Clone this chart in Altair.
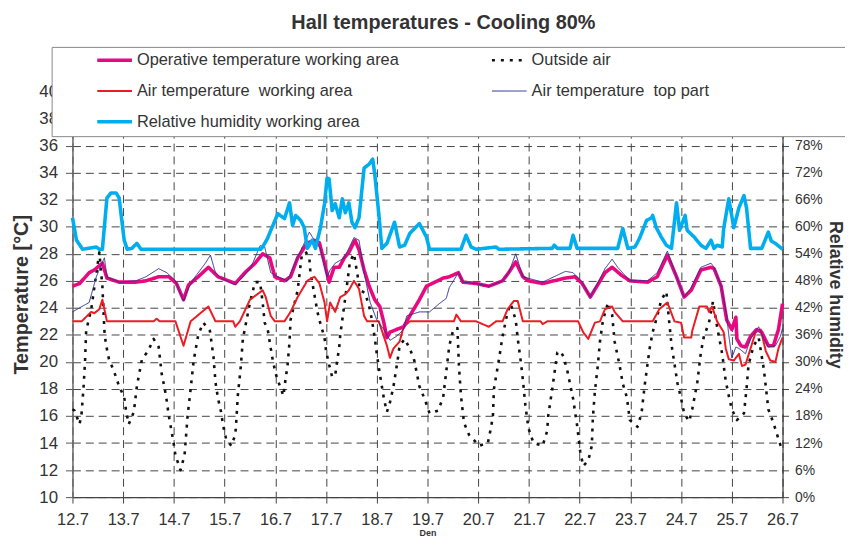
import altair as alt
import pandas as pd

FONT = "Liberation Sans, Arial, sans-serif"

SERIES = [
    "Operative temperature working area",
    "Outside air",
    "Air temperature\u00a0 working area",
    "Air temperature\u00a0 top part",
    "Relative humidity working area",
]
COLORS = ["#E8097F", "#111111", "#ED1C24", "#2E3192", "#00AEEF"]
DASHES = [[1, 0], [3, 6], [1, 0], [1, 0], [1, 0]]
WIDTHS = [3.6, 2.6, 2, 1, 3.6]

# day index: 0 = 12.7, 14 = 26.7
outside_day = [0.00, 0.04, 0.14, 0.18, 0.22, 0.25, 0.27, 0.37, 0.53, 0.59, 0.63, 0.66, 0.72, 0.82, 0.92,
               1.02, 1.06, 1.11, 1.21, 1.27, 1.37, 1.49, 1.60, 1.70, 1.76, 1.82, 1.86, 1.90, 1.99,
               2.03, 2.13, 2.21, 2.27, 2.33, 2.39, 2.48, 2.58, 2.71, 2.78, 2.82, 2.87, 2.93, 2.97,
               3.03, 3.13, 3.21, 3.23, 3.26, 3.32, 3.36, 3.50, 3.60, 3.70, 3.75, 3.79, 3.85, 3.91, 3.95,
               4.01, 4.09, 4.16, 4.20, 4.24, 4.28, 4.30, 4.44, 4.54, 4.67, 4.69, 4.83, 4.89, 4.97,
               5.00, 5.06, 5.12, 5.18, 5.22, 5.26, 5.28, 5.32, 5.42, 5.47, 5.55, 5.67, 5.77, 5.85, 5.90, 5.96,
               6.00, 6.04, 6.10, 6.14, 6.20, 6.26, 6.33, 6.41, 6.45, 6.55, 6.65, 6.74, 6.84, 6.94,
               7.04, 7.21, 7.31, 7.37, 7.43, 7.51, 7.59, 7.62, 7.66, 7.72, 7.82,
               8.02, 8.19, 8.25, 8.29, 8.31, 8.41, 8.48, 8.58, 8.64, 8.74, 8.78, 8.84, 8.88, 8.93, 8.99,
               9.09, 9.27, 9.36, 9.38, 9.46, 9.56, 9.62, 9.68, 9.76, 9.87, 9.95,
               10.01, 10.07, 10.17, 10.24, 10.26, 10.30, 10.36, 10.40, 10.46, 10.56, 10.64, 10.69, 10.79,
               10.85, 10.93, 10.99, 11.14, 11.22, 11.28, 11.38, 11.44, 11.53, 11.61, 11.71, 11.77, 11.81, 11.93,
               12.00, 12.06, 12.16, 12.22, 12.32, 12.39, 12.45, 12.55, 12.63, 12.71, 12.81, 12.88, 12.94,
               13.00, 13.10, 13.24, 13.29, 13.33, 13.43, 13.53, 13.63, 13.67, 13.72, 13.82, 13.92, 13.98]
outside_temp = [16.5, 16.4, 15.4, 16.2, 18.2, 20.2, 22.3, 23.9, 28.1, 25.6, 22.3, 21.3, 20.2, 19.3, 18.2,
                17.4, 16.3, 15.4, 16.3, 18.2, 20.2, 20.8, 21.7, 21.1, 19.1, 18.0, 17.1, 16.0, 14.1,
                13.1, 12.0, 13.1, 16.0, 18.0, 20.1, 22.0, 22.9, 22.3, 20.4, 18.5, 17.3, 16.3, 15.3,
                14.3, 13.8, 14.6, 15.6, 17.5, 19.7, 21.7, 24.4, 25.9, 25.9, 24.4, 22.9, 22.4, 21.0, 20.1,
                19.1, 18.2, 17.5, 18.7, 19.7, 21.5, 23.1, 25.3, 28.5, 27.7, 26.7, 23.7, 22.8, 21.8,
                20.8, 19.8, 18.9, 19.0, 20.1, 21.1, 22.0, 23.1, 25.9, 27.4, 28.0, 25.3, 25.1, 24.1, 23.2, 21.8,
                20.6, 19.6, 18.2, 17.3, 16.3, 17.0, 18.2, 20.1, 21.2, 21.7, 21.0, 20.1, 18.2, 17.3,
                16.2, 16.4, 17.4, 19.3, 21.2, 22.4, 22.5, 19.7, 17.5, 15.5, 14.6,
                13.8, 14.0, 15.1, 16.0, 18.0, 20.2, 21.9, 23.7, 24.3, 23.1, 21.7, 20.0, 18.7, 16.8, 15.1,
                14.0, 13.8, 14.9, 16.0, 18.0, 20.7, 20.8, 20.4, 19.3, 17.3, 15.3,
                13.4, 12.3, 12.7, 13.8, 15.8, 17.8, 19.8, 21.5, 23.1, 24.4, 23.5, 21.5, 19.7,
                18.4, 17.4, 15.7, 15.2, 16.2, 18.2, 21.0, 22.2, 23.4, 24.6, 25.2, 22.8, 21.3, 18.4,
                17.3, 16.2, 15.6, 16.5, 18.5, 20.7, 21.9, 22.9, 24.5, 22.6, 20.6, 18.6, 17.5,
                16.5, 15.7, 16.2, 18.0, 19.8, 21.2, 21.8, 19.5, 18.2, 16.5, 15.5, 14.3, 13.6]

operative_day = [0.00, 0.14, 0.33, 0.43, 0.59, 0.68, 0.92, 1.25, 1.45, 1.70, 1.90, 2.05, 2.19, 2.29, 2.48,
                 2.68, 2.87, 3.21, 3.40, 3.60, 3.75, 3.89, 3.99, 4.18, 4.30, 4.44, 4.63, 4.77, 4.87, 4.97,
                 5.06, 5.16, 5.26, 5.36, 5.45, 5.57, 5.65, 5.75, 5.85, 5.96, 6.06, 6.14, 6.20, 6.26, 6.39,
                 6.53, 6.65, 6.84, 6.98, 7.31, 7.43, 7.61, 7.70, 7.96, 8.21, 8.48, 8.60, 8.74, 8.88, 8.99,
                 9.27, 9.38, 9.72, 9.91, 10.05, 10.21, 10.34, 10.50, 10.64, 10.83, 10.99, 11.34, 11.53,
                 11.73, 11.91, 12.06, 12.20, 12.39, 12.59, 12.65, 12.79, 12.90, 13.00, 13.08, 13.10, 13.18,
                 13.27, 13.37, 13.49, 13.59, 13.72, 13.82, 13.92, 14.00]
operative_temp = [25.6, 25.8, 26.6, 26.8, 27.3, 26.2, 25.9, 25.9, 26.0, 26.3, 26.3, 25.8, 24.6, 25.7, 26.3,
                  27.0, 26.3, 25.8, 26.6, 27.3, 28.0, 27.7, 26.3, 26.0, 26.3, 27.7, 28.8, 29.0, 28.8, 27.3,
                  25.9, 27.0, 27.0, 27.7, 28.1, 29.0, 28.3, 26.8, 25.6, 24.6, 24.1, 22.9, 21.8, 22.2, 22.4,
                  22.6, 23.4, 24.6, 25.6, 26.2, 26.3, 26.6, 25.9, 25.8, 25.6, 26.0, 26.6, 27.4, 26.3, 26.0,
                  25.8, 25.9, 26.2, 26.3, 25.8, 24.8, 25.6, 26.6, 27.0, 26.4, 26.0, 25.9, 26.3,
                  27.9, 26.3, 24.8, 25.3, 26.8, 27.0, 26.9, 25.6, 23.1, 22.4, 23.3, 21.7, 21.2,
                  21.1, 21.9, 22.4, 22.2, 21.2, 21.2, 22.4, 24.3]

air_day = [0.00, 0.18, 0.37, 0.43, 0.53, 0.59, 0.68, 1.60, 1.66, 1.72, 2.03, 2.19, 2.33, 2.68, 2.82,
           3.17, 3.21, 3.30, 3.50, 3.75, 3.81, 3.91, 3.99, 4.18, 4.30, 4.44, 4.63, 4.77, 4.87, 4.97,
           5.02, 5.08, 5.18, 5.28, 5.38, 5.45, 5.55, 5.65, 5.75, 5.81, 6.04, 6.20, 6.26, 6.33, 6.45,
           6.53, 6.65, 7.52, 7.57, 7.66, 7.96, 8.21, 8.35, 8.48, 8.58, 8.70, 8.78, 8.88, 9.23, 9.27,
           9.36, 9.97, 10.07, 10.17, 10.30, 10.40, 10.50, 10.64, 10.69, 10.85, 11.44, 11.57, 11.73,
           11.87, 12.00, 12.06, 12.20, 12.22, 12.36, 12.51, 12.55, 12.61, 12.71, 12.84, 12.88, 12.94,
           13.04, 13.14, 13.20, 13.27, 13.37, 13.47, 13.57, 13.67, 13.76, 13.86, 13.92, 14.00]
air_temp = [23.0, 23.0, 23.7, 23.6, 23.9, 24.6, 23.0, 23.0, 23.2, 23.0, 23.0, 21.2, 23.0, 24.1, 23.0,
            23.0, 22.6, 23.0, 24.6, 25.3, 24.8, 23.4, 23.0, 23.0, 23.7, 24.8, 26.0, 26.3, 25.8, 24.4,
            23.0, 24.4, 23.7, 24.8, 25.0, 25.3, 26.0, 25.4, 23.4, 23.0, 23.0, 21.2, 20.3, 21.0, 21.5,
            22.6, 23.0, 23.0, 23.5, 23.0, 23.0, 22.6, 23.0, 23.0, 23.9, 24.5, 24.5, 23.0, 23.0, 22.8,
            23.0, 23.0, 22.2, 21.7, 22.9, 23.0, 23.9, 24.1, 23.7, 23.0, 23.0, 23.9, 24.4,
            23.0, 22.9, 21.8, 21.8, 22.3, 24.1, 24.1, 23.7, 24.1, 23.0, 22.2, 21.0, 20.2,
            20.1, 20.6, 19.7, 19.8, 21.0, 22.2, 22.4, 20.8, 20.1, 20.0, 21.0, 21.8]

top_day = [0.00, 0.33, 0.47, 0.63, 0.68, 0.92, 1.25, 1.45, 1.70, 1.86, 2.03, 2.19, 2.29, 2.42, 2.62,
           2.72, 2.82, 2.93, 3.21, 3.36, 3.52, 3.70, 3.79, 3.91, 4.05, 4.24, 4.40, 4.67, 4.77, 4.89,
           5.02, 5.08, 5.18, 5.36, 5.55, 5.65, 5.75, 5.87, 6.00, 6.14, 6.26, 6.39, 6.53, 6.59, 6.84,
           7.04, 7.23, 7.37, 7.43, 7.61, 7.70, 7.96, 8.21, 8.48, 8.60, 8.74, 8.88, 9.27, 9.72, 9.87,
           10.05, 10.21, 10.34, 10.50, 10.64, 10.75, 10.99, 11.34, 11.53, 11.73, 11.91, 12.06, 12.20,
           12.39, 12.59, 12.65, 12.79, 12.90, 12.94, 13.00, 13.08, 13.14, 13.27, 13.37, 13.53, 13.63,
           13.72, 13.86, 13.96, 14.00]
top_temp = [23.7, 24.4, 26.3, 27.7, 26.3, 25.9, 26.0, 26.3, 26.9, 26.6, 26.0, 24.5, 25.5, 26.3, 27.3,
            27.9, 26.6, 26.2, 25.7, 26.3, 27.0, 28.6, 28.5, 26.6, 26.3, 26.0, 27.4, 29.6, 29.0, 28.4,
            26.3, 26.8, 27.3, 27.7, 29.2, 29.0, 26.6, 24.4, 23.1, 22.4, 21.6, 21.9, 22.4, 23.4, 23.7,
            23.7, 24.3, 24.7, 25.5, 26.6, 25.9, 25.8, 25.6, 26.0, 26.6, 28.0, 26.3, 25.9, 26.7, 26.6,
            25.9, 24.8, 25.7, 26.9, 27.6, 27.0, 26.0, 26.0, 26.6, 28.2, 26.3, 24.8, 25.5,
            27.0, 27.3, 27.0, 25.6, 23.4, 22.0, 20.3, 21.1, 21.0, 20.6, 21.7, 22.6, 21.7,
            21.1, 21.2, 21.9, 22.5]

rh_day = [0.00, 0.08, 0.20, 0.47, 0.53, 0.59, 0.68, 0.76, 0.86, 0.92, 1.02, 1.08, 1.17, 1.27, 1.35,
          3.71, 3.75, 3.85, 3.91, 4.05, 4.18, 4.28, 4.34, 4.40, 4.50, 4.57, 4.63, 4.73, 4.79, 4.89,
          4.97, 5.02, 5.06, 5.12, 5.18, 5.26, 5.32, 5.38, 5.45, 5.51, 5.57, 5.65, 5.75, 5.85, 5.92,
          5.96, 6.04, 6.10, 6.20, 6.35, 6.45, 6.55, 6.65, 6.84, 6.98, 7.04, 7.66, 7.76, 7.86, 7.96,
          8.35, 8.41, 9.46, 9.50, 9.56, 9.81, 9.87, 9.95, 10.75, 10.85, 10.95, 11.09, 11.18, 11.32,
          11.42, 11.44, 11.51, 11.61, 11.71, 11.81, 11.85, 11.91, 11.97, 12.08, 12.12, 12.26, 12.39,
          12.49, 12.59, 12.65, 12.71, 12.81, 12.84, 12.94, 13.04, 13.14, 13.24, 13.29, 13.37, 13.59,
          13.72, 13.78, 13.86, 14.00]
rh_pct = [62.0, 57.0, 55.0, 55.5, 55.0, 55.0, 66.4, 67.5, 67.5, 66.4, 57.0, 55.0, 55.2, 56.3, 55.0,
          55.0, 55.5, 57.5, 59.2, 62.9, 61.8, 65.3, 60.3, 62.5, 61.4, 59.8, 55.2, 57.0, 55.2, 59.8,
          65.1, 70.8, 70.6, 63.6, 65.1, 62.0, 66.2, 63.1, 65.3, 61.0, 59.8, 62.0, 73.0, 73.9, 75.0,
          71.7, 62.9, 55.2, 56.3, 61.0, 55.5, 55.9, 58.5, 60.7, 57.7, 55.0, 55.0, 58.1, 55.5, 55.0,
          55.5, 55.0, 55.2, 55.9, 55.2, 55.2, 58.1, 55.2, 55.2, 59.6, 55.2, 55.5, 57.4, 61.4,
          62.0, 62.5, 59.8, 57.7, 55.9, 55.2, 59.2, 65.3, 59.2, 62.5, 59.2, 57.7, 55.9,
          55.2, 57.0, 55.2, 55.9, 55.5, 59.6, 66.2, 59.8, 64.2, 66.9, 64.2, 55.2, 55.2,
          58.8, 56.8, 56.3, 55.0]

temp_frames = {
    SERIES[1]: pd.DataFrame({"day": outside_day, "value": outside_temp, "series": SERIES[1]}),
    SERIES[2]: pd.DataFrame({"day": air_day, "value": air_temp, "series": SERIES[2]}),
    SERIES[0]: pd.DataFrame({"day": operative_day, "value": operative_temp, "series": SERIES[0]}),
    SERIES[3]: pd.DataFrame({"day": top_day, "value": top_temp, "series": SERIES[3]}),
}
rh_df = pd.DataFrame({"day": rh_day, "rh": [v / 100 for v in rh_pct], "series": SERIES[4]})

leg = alt.Legend(
    title="\u00a0", titleOrient="right", titlePadding=140, titleFontSize=10,
    orient="none", legendX=-21, legendY=-45, columns=2, direction="horizontal",
    fillColor="white", strokeColor="#888888", padding=6,
    labelFont=FONT, labelFontSize=16.5, labelColor="#333333", labelLimit=0,
    symbolType="stroke", symbolSize=1225, clipHeight=15,
    rowPadding=14, columnPadding=53, symbolOffset=38, labelOffset=3,
)
color_enc = alt.Color("series:N", scale=alt.Scale(domain=SERIES, range=COLORS), legend=leg)
dash_enc = alt.StrokeDash("series:N", scale=alt.Scale(domain=SERIES, range=DASHES), legend=leg)
width_enc = alt.StrokeWidth("series:N", scale=alt.Scale(type="ordinal", domain=SERIES, range=WIDTHS), legend=leg)

x_enc = alt.X(
    "day:Q",
    scale=alt.Scale(domain=[0, 14], nice=False, zero=False),
    axis=alt.Axis(
        values=list(range(15)), labelExpr="(datum.value + 12) + '.7'", labelFlush=False,
        title="Den", titleFontSize=9, titleFontWeight="bold", titleColor="#333333", titlePadding=0,
        labelFontSize=16.5, labelFont=FONT, labelColor="#333333", labelPadding=9,
        tickSize=6, tickColor="#444444", domainColor="#444444", domainWidth=1.2,
        grid=True, gridDash=[8, 5], gridColor="#444444", gridWidth=1,
    ),
)
y_temp = alt.Y(
    "value:Q",
    scale=alt.Scale(domain=[10, 40], nice=False, zero=False),
    axis=alt.Axis(
        values=list(range(10, 41, 2)), labelFlush=False, title="Temperature [°C]", titleFont=FONT,
        titleFontSize=20, titleFontWeight="bold", titleColor="#333333", titlePadding=7,
        labelFontSize=17, labelFont=FONT, labelColor="#333333", labelPadding=8,
        tickSize=7, tickColor="#555555", domainColor="#666666", domainWidth=1.5,
        grid=True, gridDash=[8, 5], gridColor="#444444", gridWidth=1,
    ),
)
y_rh = alt.Y(
    "rh:Q",
    scale=alt.Scale(domain=[0, 0.9], nice=False, zero=True),
    axis=alt.Axis(
        orient="right", values=[round(i * 0.06, 2) for i in range(14)], format=".0%", labelFlush=False,
        title="Relative humidity", titleFont=FONT, titleFontSize=18, titleFontWeight="bold",
        titleColor="#333333", titlePadding=3,
        labelFontSize=14, labelFont=FONT, labelColor="#333333", labelPadding=6,
        tickSize=6, tickColor="#444444", domainColor="#333333", domainWidth=1.2, grid=False,
    ),
)

temp_layers = [
    alt.Chart(df).mark_line(strokeJoin="round").encode(
        x=x_enc, y=y_temp, color=color_enc, strokeDash=dash_enc, strokeWidth=width_enc
    )
    for df in temp_frames.values()
]
temp_layer = alt.layer(*temp_layers)
rh_layer = alt.Chart(rh_df).mark_line(strokeJoin="round").encode(
    x=x_enc, y=y_rh, color=color_enc, strokeDash=dash_enc, strokeWidth=width_enc
)

chart = (
    alt.layer(temp_layer, rh_layer)
    .resolve_scale(y="independent")
    .properties(
        width=716, height=409,
        title=alt.Title("Hall temperatures - Cooling 80%", font=FONT, fontSize=20, fontWeight="bold",
                        color="#333333", anchor="middle", frame="group", offset=18, dx=16, dy=20,
                        baseline="alphabetic"),
        autosize=alt.AutoSizeParams(type="none"),
        padding={"left": 65, "top": 82, "right": 63, "bottom": 40},
    )
    .configure_view(stroke=None)
)

chart.save("out.html", embed_options={"renderer": "svg", "actions": False})
